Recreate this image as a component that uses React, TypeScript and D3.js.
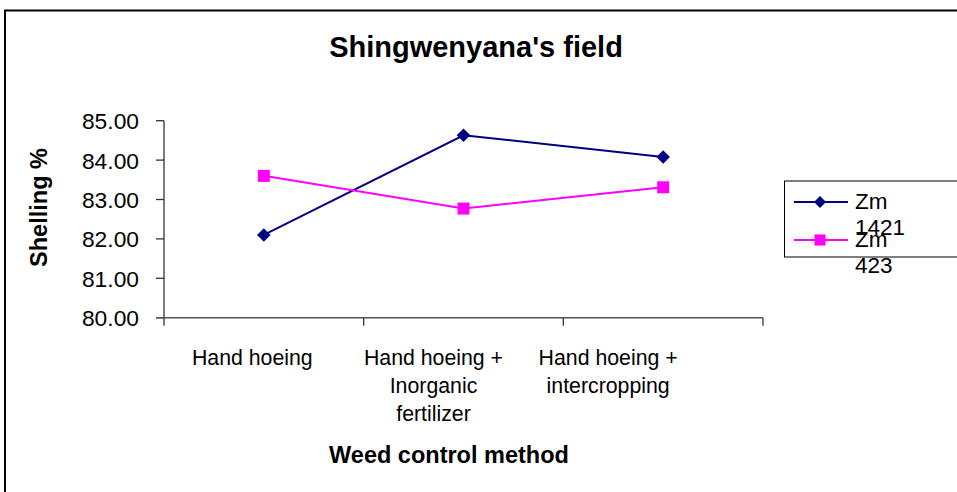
import React from "react";
import * as d3 from "d3";

const categories = [
  ["Hand hoeing"],
  ["Hand hoeing +", "Inorganic", "fertilizer"],
  ["Hand hoeing +", "intercropping"],
];
const seriesNames = [["Zm", "1421"], ["Zm", "423"]];
const zm1421 = [82.1, 84.63, 84.08];
const zm423 = [83.6, 82.77, 83.31];
const yTicks = [80, 81, 82, 83, 84, 85];

const W = 957;
const H = 492;
const plot = { left: 164, right: 763, top: 120.7, bottom: 317.7 };
const labelShift = [-11.5, -30, -55];
const FONT = "'Liberation Sans', Arial, sans-serif";
const colors = ["#000080", "#FF00FF"];

export default function App() {
  const keys = categories.map((_, i) => String(i));
  const xBand = d3.scaleBand<string>().domain(keys).range([plot.left, plot.right]);
  const xPt = d3.scalePoint<string>().domain(keys).range([plot.left, plot.right]).padding(0.5);
  const y = d3.scaleLinear().domain([80, 85]).range([plot.bottom, plot.top]);
  const line = d3
    .line<number>()
    .x((_, i) => xPt(String(i)) as number)
    .y((d) => y(d));
  const series = [zm1421, zm423];
  const bounds = [...keys.map((k) => xBand(k) as number), plot.right];

  const diamond = (cx: number, cy: number, r: number) =>
    `M${cx},${cy - r}L${cx + r},${cy}L${cx},${cy + r}L${cx - r},${cy}Z`;

  const marker = (si: number, cx: number, cy: number, big: boolean) =>
    si === 0 ? (
      <path d={diamond(cx, cy, big ? 6.8 : 6)} fill={colors[0]} />
    ) : (
      <rect
        x={cx - (big ? 6 : 5.5)}
        y={cy - (big ? 6 : 5.5)}
        width={big ? 12 : 11}
        height={big ? 12 : 11}
        fill={colors[1]}
      />
    );

  const legendY = [202, 240];

  return (
    <svg
      width={W}
      height={H}
      style={{ position: "absolute", left: 0, top: 0, background: "#fff" }}
      fontFamily={FONT}
    >
      <rect x={0} y={0} width={W} height={H} fill="#fff" />
      <rect x={5} y={10.5} width={W + 20} height={H + 20} fill="none" stroke="#000" strokeWidth={2} />

      <text x={476} y={57} textAnchor="middle" fontSize={29} fontWeight="bold">
        Shingwenyana's field
      </text>

      {/* y axis */}
      <line x1={plot.left} x2={plot.left} y1={plot.top} y2={plot.bottom} stroke="#333" strokeWidth={1.3} />
      {yTicks.map((t) => (
        <g key={t}>
          <line x1={plot.left - 8} x2={plot.left} y1={y(t)} y2={y(t)} stroke="#333" strokeWidth={1.3} />
          <text x={139} y={y(t) + 8.5} textAnchor="end" fontSize={22.8}>
            {t.toFixed(2)}
          </text>
        </g>
      ))}

      {/* x axis */}
      <line x1={plot.left - 8} x2={plot.right} y1={plot.bottom} y2={plot.bottom} stroke="#555" strokeWidth={1.5} />
      {bounds.map((b, i) => (
        <line key={i} x1={b} x2={b} y1={plot.bottom} y2={plot.bottom + 8} stroke="#333" strokeWidth={1.3} />
      ))}
      {categories.map((lines, i) => (
        <text
          key={i}
          x={(xPt(String(i)) as number) + labelShift[i]}
          textAnchor="middle"
          fontSize={21.3}
        >
          {lines.map((l, j) => (
            <tspan key={j} x={(xPt(String(i)) as number) + labelShift[i]} y={365 + j * 28}>
              {l}
            </tspan>
          ))}
        </text>
      ))}

      <text x={449} y={462.5} textAnchor="middle" fontSize={23.5} fontWeight="bold">
        Weed control method
      </text>
      <text
        transform={`translate(47,207.5) rotate(-90)`}
        textAnchor="middle"
        fontSize={23.5}
        fontWeight="bold"
      >
        Shelling %
      </text>

      {/* series */}
      {series.map((s, si) => (
        <g key={si}>
          <path d={line(s) as string} fill="none" stroke={colors[si]} strokeWidth={2} />
          {s.map((v, i) => (
            <g key={i}>{marker(si, xPt(String(i)) as number, y(v), true)}</g>
          ))}
        </g>
      ))}

      {/* legend */}
      <rect x={784.5} y={181} width={200} height={76} fill="#fff" stroke="#000" strokeWidth={1} />
      {seriesNames.map((nm, si) => (
        <g key={si}>
          <line x1={794} x2={848} y1={legendY[si]} y2={legendY[si]} stroke={colors[si]} strokeWidth={2} />
          {marker(si, 820, legendY[si], false)}
          <text fontSize={22.5}>
            {nm.map((l, j) => (
              <tspan key={j} x={855} y={legendY[si] + 6.5 + j * 26}>
                {l}
              </tspan>
            ))}
          </text>
        </g>
      ))}
    </svg>
  );
}
